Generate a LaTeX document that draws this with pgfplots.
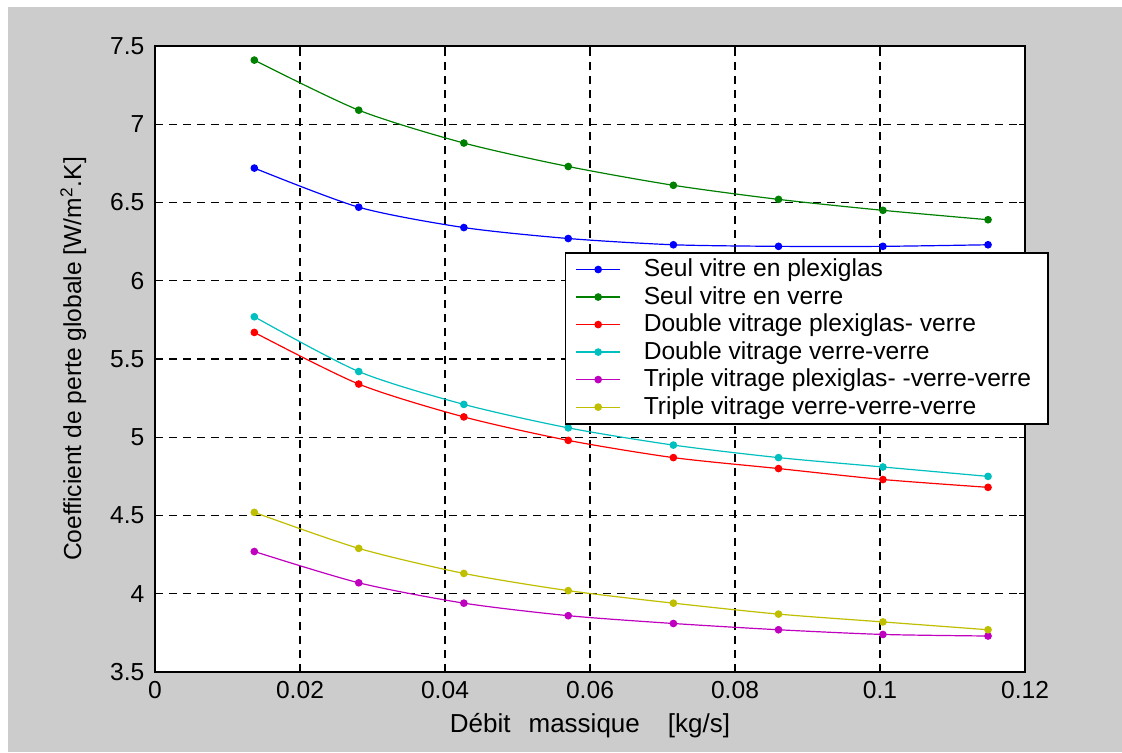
\documentclass[border=0pt]{standalone}
\usepackage{fontspec}
\setmainfont{Liberation Sans}
\usepackage{pgfplots}
\pgfplotsset{compat=1.18}
\definecolor{figgray}{HTML}{CCCCCC}
\definecolor{mlblue}{rgb}{0,0,1}
\definecolor{mlgreen}{rgb}{0,0.5,0}
\definecolor{mlred}{rgb}{1,0,0}
\definecolor{mlcyan}{rgb}{0,0.75,0.75}
\definecolor{mlmagenta}{rgb}{0.75,0,0.75}
\definecolor{mlyellow}{rgb}{0.75,0.75,0}
\newcommand{\figfont}{\fontsize{12.3}{14.4}\selectfont}
\pgfplotsset{
  mlline/.style={line width=0.6pt, smooth, tension=0.45, mark=*, mark size=1.6pt, mark options={solid}}
}
\begin{document}
\figfont
\begin{tikzpicture}[x=1pt,y=1pt]
\fill[white] (-77.5,-40) rectangle (483.5,336);
\fill[figgray] (-73.5,-40) rectangle (483.5,332.5);
\begin{axis}[
  at={(0,0)}, anchor=south west,
  scale only axis, width=435pt, height=313pt,
  xmin=0, xmax=0.12, ymin=3.5, ymax=7.5,
  xtick={0,0.02,0.04,0.06,0.08,0.1,0.12},
  xticklabels={0,0.02,0.04,0.06,0.08,0.1,0.12},
  ytick={3.5,4,4.5,5,5.5,6,6.5,7,7.5},
  yticklabels={3.5,4,4.5,5,5.5,6,6.5,7,7.5},
  scaled x ticks=false,
  axis background/.style={fill=white},
  axis line style={black, line width=0.8pt},
  tick style={black, line width=0.6pt},
  tick align=inside, major tick length=3pt,
  grid=major,
  major grid style={black, line width=0.6pt, dash pattern=on 4pt off 3pt},
  tick label style={font=\figfont},
  xticklabel style={yshift=-0.5pt},
  yticklabel style={xshift=-1pt},
  xlabel={Débit\hspace{9pt}massique\hspace{14pt}[kg/s]},
  ylabel={Coefficient de perte globale [W/m\textsuperscript{2}.K]},
  xlabel style={at={(axis description cs:0.5,-0.085)}, anchor=center, font=\fontsize{13}{15}\selectfont},
  ylabel style={at={(axis description cs:-0.094,0.5)}, anchor=center, rotate=0, font=\figfont},
  legend style={
    at={(0.471,0.671)}, anchor=north west,
    draw=black, line width=0.8pt, fill=white,
    font=\figfont,
    cells={anchor=west},
    nodes={inner xsep=3.5pt, inner ysep=1.5pt},
    inner xsep=5pt, inner ysep=1.5pt,
    /tikz/every odd column/.append style={column sep=8pt},
  },
  legend image code/.code={
    \draw[#1, mark=none] (0pt,0pt) -- (22pt,0pt);
    \draw[#1, only marks] plot coordinates {(11pt,0pt)};
  },
  legend cell align=left,
]
\addplot[mlline, color=mlblue] coordinates {
  (0.0137,6.72) (0.0281,6.47) (0.0426,6.34) (0.0570,6.27)
  (0.0715,6.23) (0.0860,6.22) (0.1004,6.22) (0.1149,6.23)};
\addlegendentry{Seul vitre en plexiglas}
\addplot[mlline, color=mlgreen] coordinates {
  (0.0137,7.41) (0.0281,7.09) (0.0426,6.88) (0.0570,6.73)
  (0.0715,6.61) (0.0860,6.52) (0.1004,6.45) (0.1149,6.39)};
\addlegendentry{Seul vitre en verre}
\addplot[mlline, color=mlred] coordinates {
  (0.0137,5.67) (0.0281,5.34) (0.0426,5.13) (0.0570,4.98)
  (0.0715,4.87) (0.0860,4.80) (0.1004,4.73) (0.1149,4.68)};
\addlegendentry{Double vitrage plexiglas- verre}
\addplot[mlline, color=mlcyan] coordinates {
  (0.0137,5.77) (0.0281,5.42) (0.0426,5.21) (0.0570,5.06)
  (0.0715,4.95) (0.0860,4.87) (0.1004,4.81) (0.1149,4.75)};
\addlegendentry{Double vitrage verre-verre}
\addplot[mlline, color=mlmagenta] coordinates {
  (0.0137,4.27) (0.0281,4.07) (0.0426,3.94) (0.0570,3.86)
  (0.0715,3.81) (0.0860,3.77) (0.1004,3.74) (0.1149,3.73)};
\addlegendentry{Triple vitrage plexiglas- -verre-verre}
\addplot[mlline, color=mlyellow] coordinates {
  (0.0137,4.52) (0.0281,4.29) (0.0426,4.13) (0.0570,4.02)
  (0.0715,3.94) (0.0860,3.87) (0.1004,3.82) (0.1149,3.77)};
\addlegendentry{Triple vitrage verre-verre-verre}
\end{axis}
\end{tikzpicture}
\end{document}
